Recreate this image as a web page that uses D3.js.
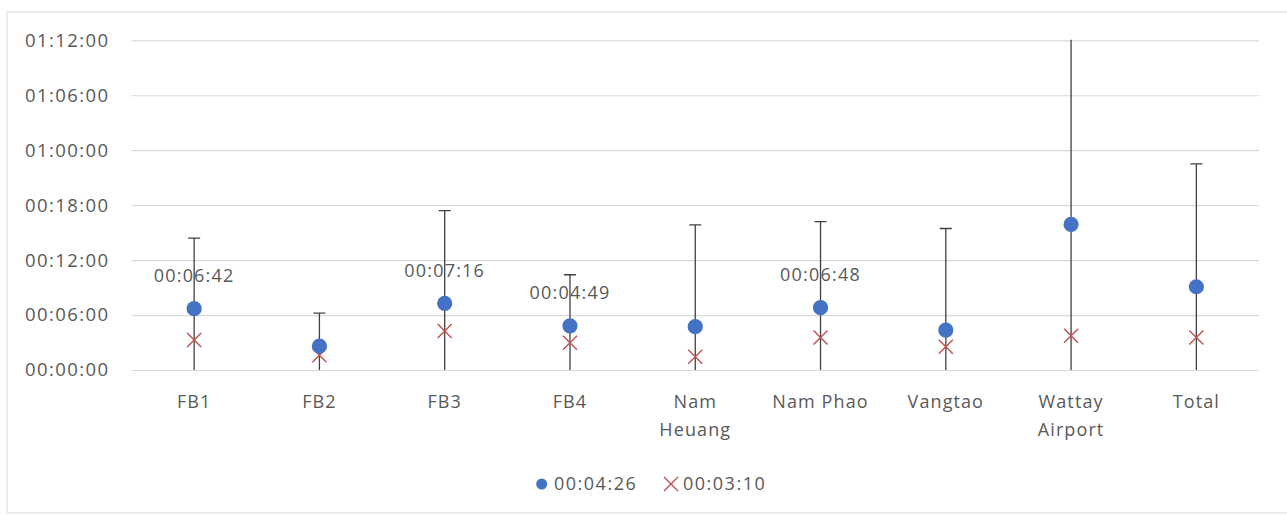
<!DOCTYPE html>
<html>
<head>
<meta charset="utf-8">
<script src="https://cdn.jsdelivr.net/npm/d3@7"></script>
<style>
  html, body { margin: 0; padding: 0; background: #fff; }
  svg { display: block; }
  text { font-family: "Open Sans", "Liberation Sans", sans-serif; fill: #595959; }
</style>
</head>
<body>
<svg id="chart" width="1287" height="515"></svg>
<script>
// ---- data (minutes) ----
const categories = ["FB1", "FB2", "FB3", "FB4", "Nam Heuang", "Nam Phao", "Vangtao", "Wattay Airport", "Total"];
const meanValues = [6.7, 2.6, 7.27, 4.82, 4.73, 6.8, 4.36, 15.9, 9.09];
const crossValues = [3.27, 1.6, 4.25, 2.98, 1.45, 3.56, 2.55, 3.74, 3.56];
const upperValues = [14.4, 6.2, 17.4, 10.4, 15.85, 16.2, 15.45, 40, 22.5];
const lowerValues = [0, 0, 0, 0, 0, 0, 0, 0, 0];
const dataLabels = ["00:06:42", "", "00:07:16", "00:04:49", "", "00:06:48", "", "", ""];
const tickValues = [0, 6, 12, 18, 24, 30, 36];
const tickLabels = ["00:00:00", "00:06:00", "00:12:00", "00:18:00", "01:00:00", "01:06:00", "01:12:00"];
const legendLabels = ["00:04:26", "00:03:10"];

const svg = d3.select("#chart");
const margin = { left: 131.5, right: 1259, top: 40.3, bottom: 370 };

// chart border
svg.append("rect")
  .attr("x", 7).attr("y", 12)
  .attr("width", 1300).attr("height", 501)
  .attr("fill", "none").attr("stroke", "#d9d9d9").attr("stroke-width", 1);

const x = d3.scaleBand().domain(categories).range([margin.left, margin.right]);
const y = d3.scaleLinear().domain([0, 36]).range([margin.bottom, margin.top]);

// clip
svg.append("defs").append("clipPath").attr("id", "plotclip")
  .append("rect").attr("x", margin.left).attr("y", margin.top - 0.5)
  .attr("width", margin.right - margin.left).attr("height", margin.bottom - margin.top + 1);

// gridlines + y axis labels
const yAxis = d3.axisLeft(y).tickValues(tickValues)
  .tickSize(-(margin.right - margin.left))
  .tickPadding(22)
  .tickFormat((d, i) => tickLabels[i]);
const gy = svg.append("g").attr("transform", `translate(${margin.left},0)`).call(yAxis);
gy.select(".domain").remove();
gy.selectAll(".tick line").attr("stroke", "#d9d9d9").attr("stroke-width", 1.2);
gy.selectAll(".tick text")
  .style("font-size", "18.5px").style("letter-spacing", "1.4px")
  .attr("fill", "#595959");

// x axis labels
const xAxis = d3.axisBottom(x).tickSize(0).tickPadding(25);
const gx = svg.append("g").attr("transform", `translate(0,${margin.bottom})`).call(xAxis);
gx.select(".domain").remove();
gx.selectAll(".tick text")
  .style("font-size", "18px").style("letter-spacing", "1.1px")
  .attr("fill", "#595959")
  .each(function (d) {
    const t = d3.select(this);
    const words = d.split(" ");
    if (words.length > 1 && d.length > 8) {
      t.text(null);
      const yy = t.attr("y");
      words.forEach((w, i) => {
        t.append("tspan").attr("x", 0).attr("y", yy).attr("dy", (0.71 + i * 1.55) + "em").text(w);
      });
    }
  });

const idx = d3.range(categories.length);
const cx = i => x(categories[i]) + x.bandwidth() / 2;
const plot = svg.append("g").attr("clip-path", "url(#plotclip)");

// error bars
plot.selectAll("line.err").data(idx).join("line")
  .attr("class", "err")
  .attr("x1", cx).attr("x2", cx)
  .attr("y1", i => y(lowerValues[i])).attr("y2", i => y(upperValues[i]))
  .attr("stroke", "#404040").attr("stroke-width", 1.3);
plot.selectAll("line.cap").data(idx.filter(i => upperValues[i] <= 36)).join("line")
  .attr("class", "cap")
  .attr("x1", i => cx(i) - 6).attr("x2", i => cx(i) + 6)
  .attr("y1", i => y(upperValues[i])).attr("y2", i => y(upperValues[i]))
  .attr("stroke", "#404040").attr("stroke-width", 1.3);

// crosses
const crossPath = (px, py, s) => `M${px - s},${py - s}L${px + s},${py + s}M${px - s},${py + s}L${px + s},${py - s}`;
plot.selectAll("path.cross").data(idx).join("path")
  .attr("class", "cross")
  .attr("d", i => crossPath(cx(i), y(crossValues[i]), 7))
  .attr("stroke", "#C0504D").attr("stroke-width", 1.4).attr("fill", "none");

// dots
plot.selectAll("circle.dot").data(idx).join("circle")
  .attr("class", "dot")
  .attr("cx", cx).attr("cy", i => y(meanValues[i])).attr("r", 7.6)
  .attr("fill", "#4472C4");

// data labels
svg.selectAll("text.dlabel").data(idx.filter(i => dataLabels[i])).join("text")
  .attr("class", "dlabel")
  .attr("x", cx).attr("y", i => y(meanValues[i]) - 33)
  .attr("dy", "0.35em")
  .attr("text-anchor", "middle")
  .style("font-size", "18px").style("letter-spacing", "1.2px")
  .attr("fill", "#404040")
  .text(i => dataLabels[i]);

// legend
const lg = svg.append("g");
lg.append("circle").attr("cx", 541.7).attr("cy", 484).attr("r", 5.5).attr("fill", "#4472C4");
lg.append("text").attr("x", 554).attr("y", 484).attr("dy", "0.35em")
  .style("font-size", "18px").style("letter-spacing", "1.5px").text(legendLabels[0]);
lg.append("path").attr("d", crossPath(671, 484, 7))
  .attr("stroke", "#C0504D").attr("stroke-width", 1.4).attr("fill", "none");
lg.append("text").attr("x", 683).attr("y", 484).attr("dy", "0.35em")
  .style("font-size", "18px").style("letter-spacing", "1.5px").text(legendLabels[1]);
</script>
</body>
</html>
